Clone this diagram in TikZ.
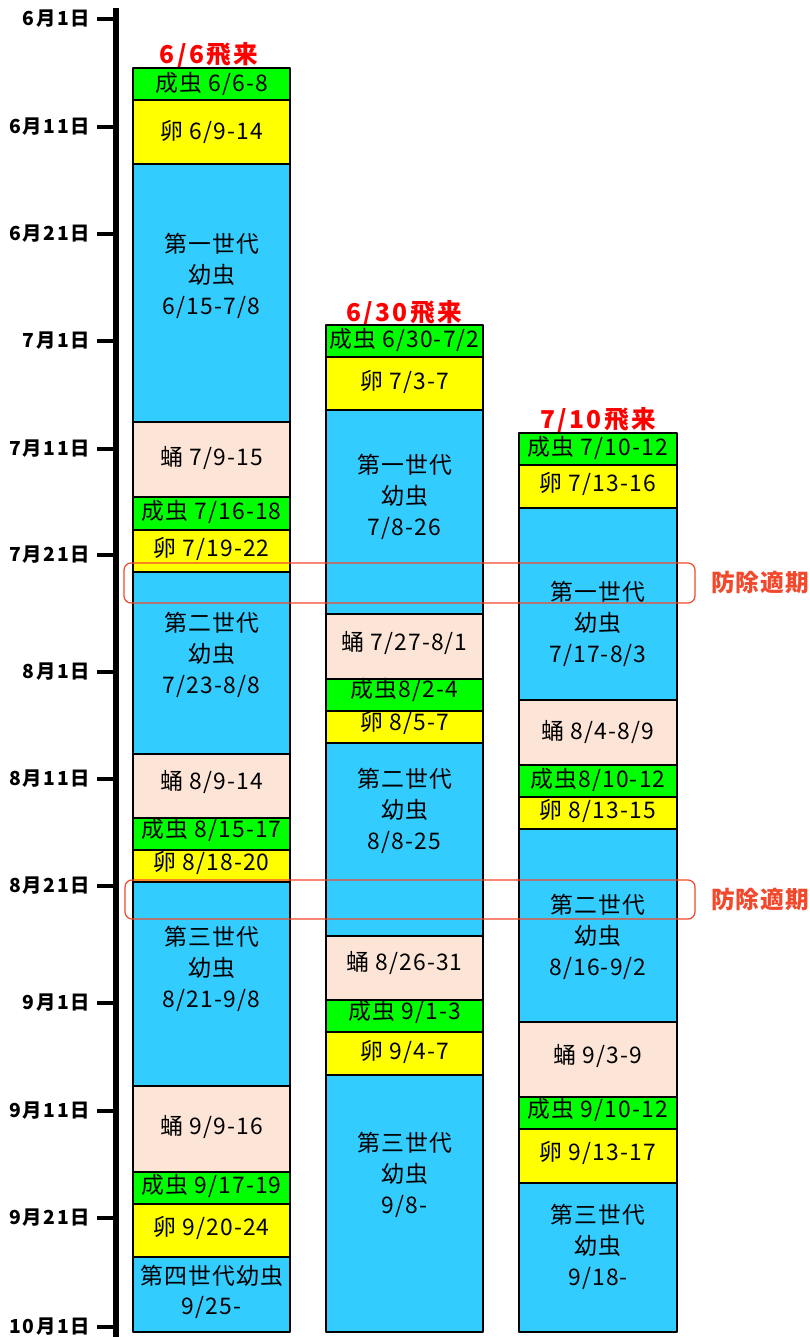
\documentclass[tikz,border=0pt]{standalone}
\usepackage{fontspec}
\setmainfont{Noto Sans CJK JP}
\definecolor{adultgreen}{RGB}{0,255,0}
\definecolor{eggyellow}{RGB}{255,255,0}
\definecolor{larvablue}{RGB}{51,204,255}
\definecolor{pupapink}{RGB}{252,228,214}
\definecolor{ctrlred}{RGB}{242,72,44}
\tikzset{seg/.style={draw=black, line width=1.5pt}}
\tikzset{adult/.style={seg, fill=adultgreen}}
\tikzset{egg/.style={seg, fill=eggyellow}}
\tikzset{larva/.style={seg, fill=larvablue}}
\tikzset{pupa/.style={seg, fill=pupapink}}
\tikzset{txt/.style={font=\fontsize{13}{17.5}\selectfont\addfontfeature{LetterSpace=5}, align=center, inner sep=0pt}}
\tikzset{flight/.style={font=\fontsize{14}{16}\selectfont\bfseries\addfontfeature{LetterSpace=10}, text=red, inner sep=0pt}}
\tikzset{ctrl/.style={draw=ctrlred, line width=0.7pt, rounded corners=4pt}}
\tikzset{ctrllabel/.style={font=\fontsize{13.5}{15}\selectfont\bfseries\addfontfeature{LetterSpace=4}, text=ctrlred, inner sep=0pt}}
\tikzset{daylabel/.style={font=\fontsize{11}{13}\selectfont\bfseries\addfontfeature{LetterSpace=8}, anchor=east, inner sep=0pt}}
\tikzset{tick/.style={line width=2.4pt}}

\begin{document}
\begin{tikzpicture}[x=0.02cm, y=-0.02cm, line join=round]
\useasboundingbox (0,0) rectangle (809,1337);

\draw[line width=3pt] (116,8) -- (116,1337);
\draw[tick] (97,19) -- (116,19);     \node[daylabel] (d1) at (90,19) {6月1日};
\draw[tick] (97,127) -- (116,127);   \node[daylabel] (d2) at (90,127) {6月11日};
\draw[tick] (97,234) -- (116,234);   \node[daylabel] (d3) at (90,234) {6月21日};
\draw[tick] (97,341) -- (116,341);   \node[daylabel] (d4) at (90,341) {7月1日};
\draw[tick] (97,449) -- (116,449);   \node[daylabel] (d5) at (90,449) {7月11日};
\draw[tick] (97,555) -- (116,555);   \node[daylabel] (d6) at (90,555) {7月21日};
\draw[tick] (97,672) -- (116,672);   \node[daylabel] (d7) at (90,672) {8月1日};
\draw[tick] (97,779) -- (116,779);   \node[daylabel] (d8) at (90,779) {8月11日};
\draw[tick] (97,886) -- (116,886);   \node[daylabel] (d9) at (90,886) {8月21日};
\draw[tick] (97,1003) -- (116,1003); \node[daylabel] (d10) at (90,1003) {9月1日};
\draw[tick] (97,1111) -- (116,1111); \node[daylabel] (d11) at (90,1111) {9月11日};
\draw[tick] (97,1218) -- (116,1218); \node[daylabel] (d12) at (90,1218) {9月21日};
\draw[tick] (97,1327) -- (116,1327); \node[daylabel] (d13) at (90,1327) {10月1日};

\node[flight] (f1) at (209,55) {6/6飛来};
\draw[adult] (133,68) rectangle (290,100);    \node[txt] (a11) at (211.5,84) {成虫 6/6-8};
\draw[egg] (133,100) rectangle (290,164);     \node[txt] (a12) at (211.5,132) {卵 6/9-14};
\draw[larva] (133,164) rectangle (290,422);   \node[txt] (a13) at (211.5,276) {第一世代\\幼虫\\6/15-7/8};
\draw[pupa] (133,422) rectangle (290,497);    \node[txt] (a14) at (211.5,458) {蛹 7/9-15};
\draw[adult] (133,497) rectangle (290,530);   \node[txt] (a15) at (211.5,512) {成虫 7/16-18};
\draw[egg] (133,530) rectangle (290,572);     \node[txt] (a16) at (211.5,549) {卵 7/19-22};
\draw[larva] (133,572) rectangle (290,754);   \node[txt] (a17) at (211.5,655) {第二世代\\幼虫\\7/23-8/8};
\draw[pupa] (133,754) rectangle (290,818);    \node[txt] (a18) at (211.5,782) {蛹 8/9-14};
\draw[adult] (133,818) rectangle (290,850);   \node[txt] (a19) at (211.5,830) {成虫 8/15-17};
\draw[egg] (133,850) rectangle (290,882);     \node[txt] (a110) at (211.5,863) {卵 8/18-20};
\draw[larva] (133,882) rectangle (290,1086);  \node[txt] (a111) at (211.5,969) {第三世代\\幼虫\\8/21-9/8};
\draw[pupa] (133,1086) rectangle (290,1172);  \node[txt] (a112) at (211.5,1127) {蛹 9/9-16};
\draw[adult] (133,1172) rectangle (290,1204); \node[txt] (a113) at (211.5,1186) {成虫 9/17-19};
\draw[egg] (133,1204) rectangle (290,1257);   \node[txt] (a114) at (211.5,1228) {卵 9/20-24};
\draw[larva] (133,1257) rectangle (290,1332); \node[txt] (a115) at (211.5,1292) {第四世代幼虫\\9/25-};

\node[flight] (f2) at (404,313) {6/30飛来};
\draw[adult] (326,325) rectangle (483,357);   \node[txt] (b1) at (404.5,340) {成虫 6/30-7/2};
\draw[egg] (326,357) rectangle (483,410);     \node[txt] (b2) at (404.5,382) {卵 7/3-7};
\draw[larva] (326,410) rectangle (483,614);   \node[txt] (b3) at (404.5,497) {第一世代\\幼虫\\7/8-26};
\draw[pupa] (326,614) rectangle (483,679);    \node[txt] (b4) at (404.5,643) {蛹 7/27-8/1};
\draw[adult] (326,679) rectangle (483,711);   \node[txt] (b5) at (404.5,690) {成虫8/2-4};
\draw[egg] (326,711) rectangle (483,743);     \node[txt] (b6) at (404.5,723) {卵 8/5-7};
\draw[larva] (326,743) rectangle (483,936);   \node[txt] (b7) at (404.5,811) {第二世代\\幼虫\\8/8-25};
\draw[pupa] (326,936) rectangle (483,1000);   \node[txt] (b8) at (404.5,963) {蛹 8/26-31};
\draw[adult] (326,1000) rectangle (483,1032); \node[txt] (b9) at (404.5,1012) {成虫 9/1-3};
\draw[egg] (326,1032) rectangle (483,1075);   \node[txt] (b10) at (404.5,1052) {卵 9/4-7};
\draw[larva] (326,1075) rectangle (483,1332); \node[txt] (b11) at (404.5,1175) {第三世代\\幼虫\\9/8-};

\node[flight] (f3) at (598,420) {7/10飛来};
\draw[adult] (519,433) rectangle (677,465);   \node[txt] (c1) at (598,448) {成虫 7/10-12};
\draw[egg] (519,465) rectangle (677,508);     \node[txt] (c2) at (598,484) {卵 7/13-16};
\draw[larva] (519,508) rectangle (677,700);   \node[txt] (c3) at (598,624) {第一世代\\幼虫\\7/17-8/3};
\draw[pupa] (519,700) rectangle (677,765);    \node[txt] (c4) at (598,732) {蛹 8/4-8/9};
\draw[adult] (519,765) rectangle (677,797);   \node[txt] (c5) at (598,780) {成虫8/10-12};
\draw[egg] (519,797) rectangle (677,829);     \node[txt] (c6) at (598,811) {卵 8/13-15};
\draw[larva] (519,829) rectangle (677,1022);  \node[txt] (c7) at (598,937) {第二世代\\幼虫\\8/16-9/2};
\draw[pupa] (519,1022) rectangle (677,1097);  \node[txt] (c8) at (598,1056) {蛹 9/3-9};
\draw[adult] (519,1097) rectangle (677,1129); \node[txt] (c9) at (598,1110) {成虫 9/10-12};
\draw[egg] (519,1129) rectangle (677,1183);   \node[txt] (c10) at (598,1153) {卵 9/13-17};
\draw[larva] (519,1183) rectangle (677,1332); \node[txt] (c11) at (598,1247) {第三世代\\幼虫\\9/18-};

\draw[ctrl] (124,563) rectangle (695,603);
\node[ctrllabel] (p1) at (760,583) {防除適期};
\draw[ctrl] (125,880) rectangle (695,919);
\node[ctrllabel] (p2) at (760,900) {防除適期};
\end{tikzpicture}
\end{document}
